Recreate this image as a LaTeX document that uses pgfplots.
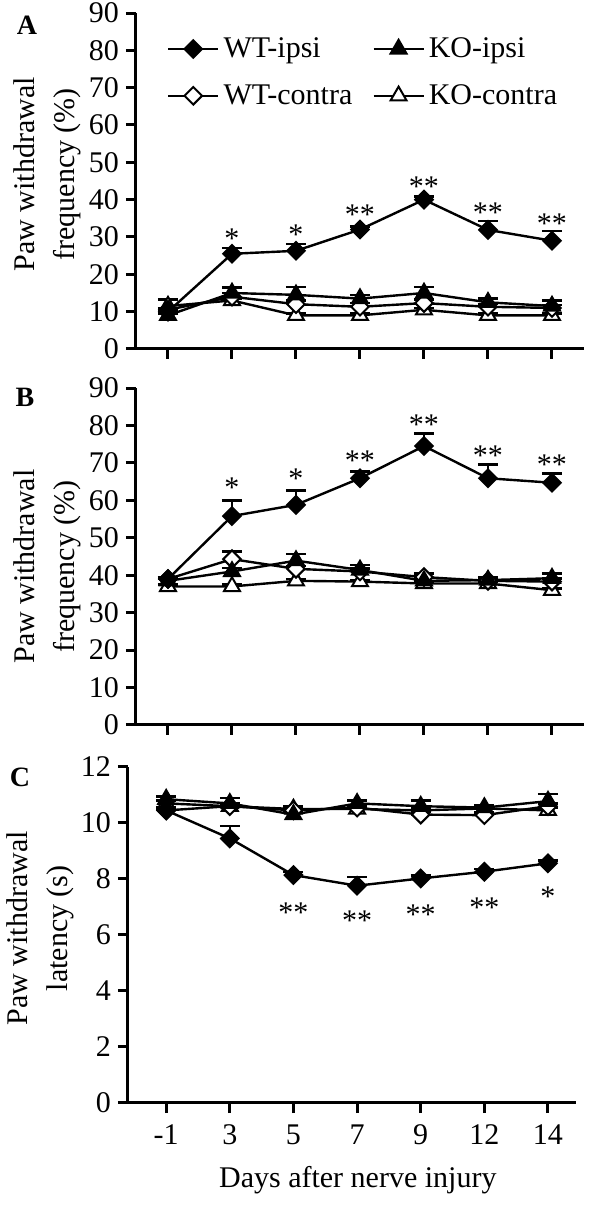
\documentclass[border=0pt]{standalone}
\usepackage{fontspec}
\setmainfont{Liberation Serif}
\usepackage{pgfplots}
\pgfplotsset{compat=1.18}
\newcommand\ff{\fontsize{15}{20}\selectfont}

\pgfplotstableread{
x y e
0 10.0 0.5
1 25.5 1.6
2 26.3 1.8
3 32.0 0.8
4 40.0 0.8
5 31.9 2.4
6 29.0 2.6
}\Awi
\pgfplotstableread{
x y e
0 10.5 0.5
1 14.0 1.0
2 12.0 1.0
3 11.3 1.0
4 12.3 1.0
5 11.3 0.8
6 11.0 0.8
}\Awc
\pgfplotstableread{
x y e
0 9.0 0.5
1 15.0 1.5
2 14.5 2.1
3 13.5 1.0
4 15.0 1.6
5 12.5 1.0
6 11.5 1.5
}\Aki
\pgfplotstableread{
x y e
0 11.5 1.8
1 13.0 0.5
2 9.0 0.5
3 9.0 0.5
4 10.5 0.5
5 9.0 0.5
6 9.0 0.5
}\Akc
\pgfplotstableread{
x y l
1 31.0 *
2 32.0 *
3 37.2 **
4 44.8 **
5 37.8 **
6 35.0 **
}\Aast

\pgfplotstableread{
x y e
0 39.0 0.5
1 55.8 4.2
2 58.8 3.8
3 65.9 1.8
4 74.5 3.4
5 65.9 3.7
6 64.7 2.5
}\Bwi
\pgfplotstableread{
x y e
0 39.0 0.5
1 44.3 2.0
2 41.7 0.8
3 41.0 0.8
4 39.5 1.0
5 38.5 0.8
6 38.3 0.8
}\Bwc
\pgfplotstableread{
x y e
0 38.5 0.5
1 41.0 1.0
2 43.9 1.8
3 41.4 1.3
4 38.5 0.8
5 38.7 0.8
6 39.2 1.3
}\Bki
\pgfplotstableread{
x y e
0 37.0 0.5
1 37.0 0.5
2 38.5 0.5
3 38.3 0.5
4 37.8 0.5
5 37.8 0.5
6 36.0 0.5
}\Bkc
\pgfplotstableread{
x y l
1 64.6 *
2 67.0 *
3 71.8 **
4 81.5 **
5 73.2 **
6 70.8 **
}\Bast

\pgfplotstableread{
x y e
0 10.45 0.05
1 9.45 0.45
2 8.14 0.10
3 7.76 0.31
4 8.02 0.10
5 8.26 0.10
6 8.56 0.10
}\Cwi
\pgfplotstableread{
x y e
0 10.45 0.10
1 10.60 0.10
2 10.45 0.10
3 10.55 0.10
4 10.30 0.10
5 10.28 0.10
6 10.60 0.10
}\Cwc
\pgfplotstableread{
x y e
0 10.85 0.10
1 10.70 0.20
2 10.30 0.10
3 10.70 0.10
4 10.60 0.20
5 10.55 0.10
6 10.78 0.25
}\Cki
\pgfplotstableread{
x y e
0 10.70 0.10
1 10.60 0.10
2 10.50 0.10
3 10.50 0.10
4 10.45 0.10
5 10.52 0.10
6 10.45 0.10
}\Ckc
\pgfplotstableread{
x y l
2 6.96 **
3 6.70 **
4 6.90 **
5 7.14 **
6 7.55 *
}\Cast

\pgfplotsset{
  panel/.style={
    scale only axis, width=224pt,
    axis lines*=left,
    axis line style={line width=1.5pt, black},
    tick style={line width=1.5pt, black},
    tick align=outside, major tick length=5pt,
    xtick={0,...,6},
    xmin=-0.5, xmax=6.5, ymin=0,
    tick label style={font=\ff},
    label style={font=\ff},
    /pgf/number format/assume math mode=true,
    clip=false,
    legend image code/.code={\draw[mark repeat=2,mark phase=2] plot coordinates {(0cm,0cm)(0.44cm,0cm)(0.88cm,0cm)};},
  },
  lin/.style={black, line width=1.2pt, forget plot},
  err/.style={error bars/y dir=plus, error bars/y explicit,
    error bars/error bar style={line width=1.2pt, black},
    error bars/error mark options={rotate=90, line width=1.2pt, mark size=5pt, black}},
  wi/.style={lin, mark=square*, mark size=3.1pt, mark options={rotate=45, solid, fill=black, line width=1pt}},
  wc/.style={lin, mark=square*, mark size=3.1pt, mark options={rotate=45, solid, fill=white, line width=1pt}},
  ki/.style={lin, mark=triangle*, mark size=4.6pt, mark options={solid, fill=black, line width=1pt}},
  kc/.style={lin, mark=triangle*, mark size=4.6pt, mark options={solid, fill=white, line width=1pt}},
  ast/.style={draw=none, mark=none, forget plot, nodes near coords, point meta=explicit symbolic,
    nodes near coords style={anchor=center, font=\ff, yshift=-2.5pt, inner sep=0pt}},
}

\begin{document}
\begin{tikzpicture}
\path[use as bounding box] (0pt,0pt) rectangle (300pt,603pt);

% Panel A
\begin{axis}[panel, at={(68pt,428.5pt)}, height=168pt, ymax=90, ytick={0,10,...,90},
  xticklabels={},
  ylabel={Paw withdrawal\\frequency (\%)},
  ylabel style={align=center, at={(axis description cs:-0.199,0.52)}, anchor=center},
  legend columns=2,
  legend style={draw=none, fill=none, at={(0.055,0.952)}, anchor=north west, font=\ff,
    row sep=8pt, /tikz/every even column/.append style={column sep=8pt}},
  legend cell align=left]
\addlegendimage{wi}
\addlegendentry{WT-ipsi}
\addlegendimage{ki}
\addlegendentry{KO-ipsi}
\addlegendimage{wc}
\addlegendentry{WT-contra}
\addlegendimage{kc}
\addlegendentry{KO-contra}
\addplot[kc, err] table[x=x, y=y, y error=e] {\Akc};
\addplot[wc, err] table[x=x, y=y, y error=e] {\Awc};
\addplot[ki, err] table[x=x, y=y, y error=e] {\Aki};
\addplot[wi, err] table[x=x, y=y, y error=e] {\Awi};
\addplot[ast] table[x=x, y=y, meta=l] {\Aast};
\end{axis}

% Panel B
\begin{axis}[panel, at={(68pt,240.5pt)}, height=168.5pt, ymax=90, ytick={0,10,...,90},
  xticklabels={},
  ylabel={Paw withdrawal\\frequency (\%)},
  ylabel style={align=center, at={(axis description cs:-0.199,0.47)}, anchor=center}]
\addplot[kc, err] table[x=x, y=y, y error=e] {\Bkc};
\addplot[wc, err] table[x=x, y=y, y error=e] {\Bwc};
\addplot[ki, err] table[x=x, y=y, y error=e] {\Bki};
\addplot[wi, err] table[x=x, y=y, y error=e] {\Bwi};
\addplot[ast] table[x=x, y=y, meta=l] {\Bast};
\end{axis}

% Panel C
\begin{axis}[panel, at={(64pt,51.5pt)}, height=168pt, xmin=-0.6, xmax=6.44, ymax=12, ytick={0,2,...,12},
  xticklabels={-1,3,5,7,9,12,14},
  xticklabel style={yshift=-2.5pt},
  ylabel={Paw withdrawal\\latency (s)},
  ylabel style={align=center, at={(axis description cs:-0.196,0.52)}, anchor=center},
  xlabel={Days after nerve injury},
  xlabel style={at={(axis description cs:0.513,-0.229)}, anchor=center}]
\addplot[kc, err] table[x=x, y=y, y error=e] {\Ckc};
\addplot[wc, err] table[x=x, y=y, y error=e] {\Cwc};
\addplot[ki, err] table[x=x, y=y, y error=e] {\Cki};
\addplot[wi, err] table[x=x, y=y, y error=e] {\Cwi};
\addplot[ast] table[x=x, y=y, meta=l] {\Cast};
\end{axis}

\node[font=\fontsize{14}{16}\selectfont\bfseries] at (13.5pt,590.5pt) {A};
\node[font=\fontsize{14}{16}\selectfont\bfseries] at (12.5pt,404.5pt) {B};
\node[font=\fontsize{14}{16}\selectfont\bfseries] at (10pt,214.5pt) {C};
\end{tikzpicture}
\end{document}
